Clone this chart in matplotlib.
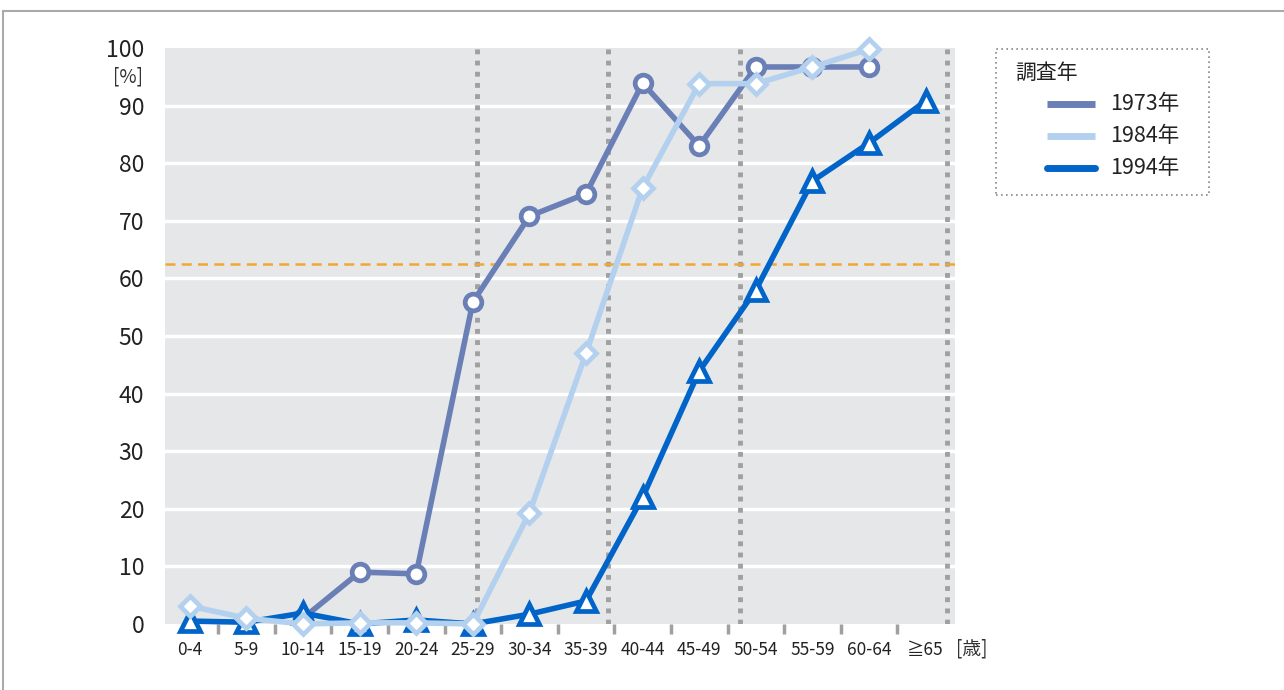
import numpy as np
import matplotlib.pyplot as plt
from matplotlib.patches import Rectangle
from matplotlib.lines import Line2D

plt.rcParams['font.family'] = ['Noto Sans CJK JP', 'DejaVu Sans']

ages = ["0-4", "5-9", "10-14", "15-19", "20-24", "25-29", "30-34", "35-39",
        "40-44", "45-49", "50-54", "55-59", "60-64", "≧65"]
nan = np.nan
y1973 = [nan, nan, 1.0, 9.0, 8.7, 55.9, 70.8, 74.7, 93.9, 83.0, 96.7, 96.7, 96.7, nan]
y1984 = [3.1, 1.0, 0.0, 0.2, 0.2, 0.0, 19.3, 47.0, 75.7, 93.8, 93.8, 96.7, 99.8, nan]
y1994 = [0.5, 0.3, 1.9, 0.0, 0.7, 0.0, 1.7, 4.0, 22.0, 43.9, 58.0, 76.9, 83.5, 90.8]
series = ["1973年", "1984年", "1994年"]
colors = ["#6a7fb6", "#b3d1ef", "#0064c8"]
markers = ["o", "D", "^"]
msizes = [12, 10, 14]
zorders = [3, 5, 4]
dotted_x = [5.08, 7.38, 9.72, 13.37]
ref_level = 62.5

W, H = 1284, 690
fig = plt.figure(figsize=(12.84, 6.9), dpi=100)
ax = fig.add_axes([0.1285, 0.0957, 0.6153, 0.8348])
ax.set_facecolor("#e6e7e9")
x = np.arange(len(ages))

for v in range(10, 100, 10):
    ax.axhline(v, color="white", lw=2.5, zorder=1)
for dx in dotted_x:
    ax.axvline(dx, color="#a0a0a0", lw=3.5, ls=(0, (1, 1.3)), zorder=2)
ax.axhline(ref_level, color="#f0a830", lw=1.8, ls=(0, (4, 2.5)), zorder=2)

for ys, name, c, m, ms, z in zip([y1973, y1984, y1994], series, colors, markers, msizes, zorders):
    ax.plot(x, ys, color=c, lw=4, marker=m, ms=ms, mfc="white", mec=c, mew=3.4,
            label=name, clip_on=False, zorder=z)

ax.set_xlim(-0.44, 13.52)
ax.set_ylim(0, 100)
ax.set_yticks(range(0, 101, 10))
ax.set_xticks(x)
ax.set_xticklabels(ages, fontsize=12.5, color="#222222")
ax.set_xticks(x[:-1] + 0.5, minor=True)
ax.tick_params(axis="x", which="major", length=0, pad=12)
ax.tick_params(axis="x", which="minor", length=7, width=2.5, color="#a0a0a0", direction="out")
ax.tick_params(axis="y", length=0, labelsize=16.5, pad=15, labelcolor="#222222")
for s in ax.spines.values():
    s.set_visible(False)

fig.text(128 / W, 1 - 77 / H, "[%]", fontsize=13.5, color="#333333", ha="center", va="center")
fig.text(972 / W, 1 - 649 / H, "[歳]", fontsize=13.5, color="#333333", ha="center", va="center")

# legend, drawn by hand so the line samples sit indented under the title
fig.patches.append(Rectangle((996 / W, 1 - 195 / H), 213 / W, 146 / H, transform=fig.transFigure,
                             fill=False, edgecolor="#888888", lw=1.2, ls=(0, (1, 2))))
fig.text(1015 / W, 1 - 73 / H, "調査年", fontsize=15, color="#222222", ha="left", va="center")
for i, (name, c) in enumerate(zip(series, colors)):
    yy = 1 - (104 + 32 * i) / H
    fig.lines.append(Line2D([1047 / W, 1095 / W], [yy, yy], transform=fig.transFigure,
                            color=c, lw=5, solid_capstyle="round" if i == 2 else "butt"))
    fig.text(1110 / W, yy, name, fontsize=15.5, color="#222222", ha="left", va="center")

# outer frame
fig.patches.append(Rectangle((3 / W, -0.05), 1.1, 1 - 11 / H + 0.05, transform=fig.transFigure,
                             fill=False, edgecolor="#aaaaaa", lw=1.5))

fig.savefig("out.png", dpi=100)
